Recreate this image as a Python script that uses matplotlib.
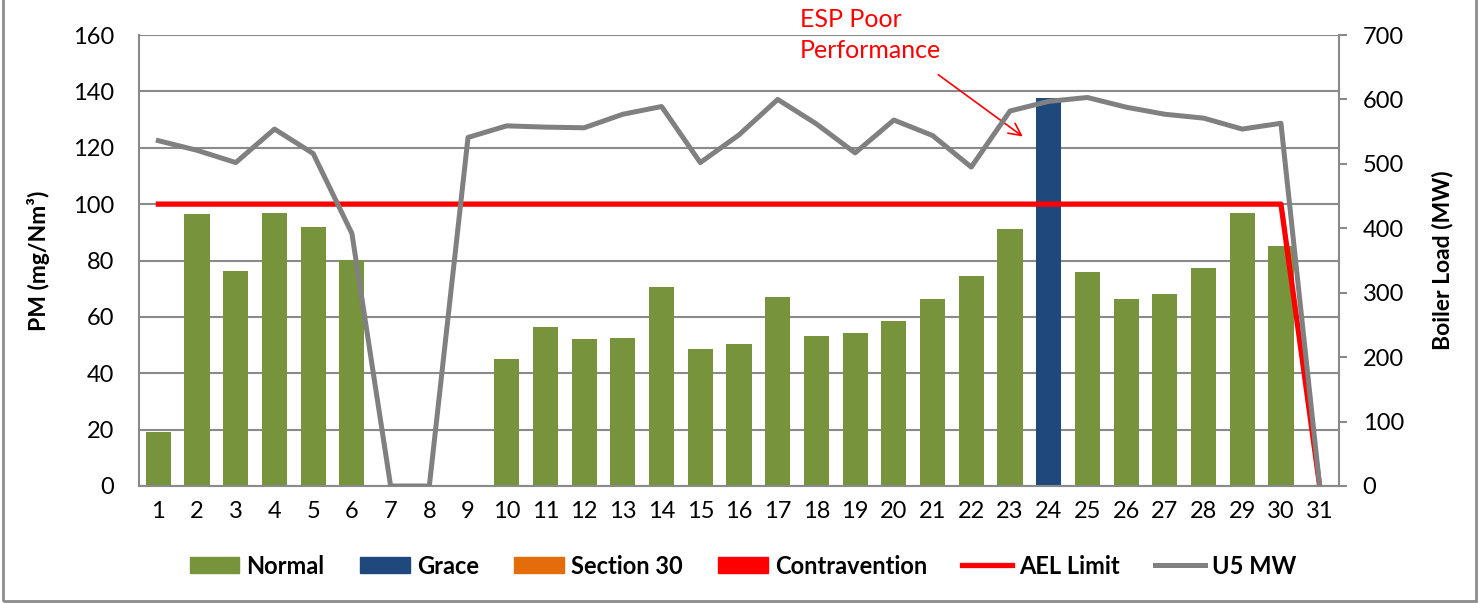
import numpy as np
import matplotlib
matplotlib.use("Agg")
import matplotlib.pyplot as plt
from matplotlib.patches import Patch, Rectangle
from matplotlib.lines import Line2D

plt.rcParams['font.family'] = ['Lato', 'DejaVu Sans']

# data
days = list(range(1, 32))
pm = [19.1, 96.5, 76.2, 97.0, 91.8, 80.1, None, None, None, 44.9,
      56.5, 52.2, 52.4, 70.7, 48.7, 50.4, 66.9, 53.2, 54.4, 58.6,
      66.3, 74.5, 91.1, 137.8, 75.8, 66.2, 68.2, 77.2, 97.0, 85.1, None]
status = ['Normal'] * 31
status[23] = 'Grace'
ael_limit = [100] * 30 + [0]
u5_mw = [536, 521, 502, 554, 516, 392, 0, 0, 541, 559,
         557, 556, 577, 589, 502, 545, 600, 562, 517, 568,
         544, 495, 582, 597, 603, 588, 577, 571, 554, 563, 0]

colors = {'Normal': '#77933C', 'Grace': '#1F497D',
          'Section 30': '#E46C0A', 'Contravention': '#FF0000'}
grey = '#808080'

fig = plt.figure(figsize=(14.81, 6.03), dpi=100)
ax = fig.add_axes([139/1481, 1-486/603, 1200/1481, 451/603])
ax2 = ax.twinx()

x = np.array(days)
vals = np.array([np.nan if v is None else v for v in pm])
ax.bar(x, vals, width=0.65, color=[colors[s] for s in status], zorder=2)
ax.plot(x, ael_limit, color='#FF0000', lw=3.8, zorder=3)
ax2.plot(x, u5_mw, color=grey, lw=3.6, zorder=3)

ax.set_xlim(0.5, 31.5)
ax.set_ylim(0, 160)
ax.set_yticks(range(0, 161, 20))
ax2.set_ylim(0, 700)
ax2.set_yticks(range(0, 701, 100))
ax.set_xticks(days)
ax.set_axisbelow(True)
ax.grid(axis='y', color='#8a8a8a', lw=1.5)
ax.grid(axis='x', visible=False)

for a in (ax, ax2):
    for s in a.spines.values():
        s.set_visible(False)
for a, side in ((ax, 'left'), (ax, 'bottom'), (ax2, 'right')):
    a.spines[side].set_visible(True)
    a.spines[side].set_color('#8a8a8a')
    a.spines[side].set_linewidth(1.5)

fs = 17
ax.tick_params(axis='y', length=0, pad=18, labelsize=fs)
ax.tick_params(axis='x', length=0, pad=11, labelsize=fs)
ax2.tick_params(axis='y', length=6, width=1.5, color='#8a8a8a', pad=11, labelsize=fs)

ax.set_ylabel('PM (mg/Nm³)', fontsize=16.5, fontweight='bold')
ax.yaxis.set_label_coords(-0.074, 0.5)
ax2.set_ylabel('Boiler Load (MW)', fontsize=16.5, fontweight='bold')
ax2.yaxis.set_label_coords(1.0775, 0.5)

# annotation
ax.text(17.58, 160, 'ESP Poor\nPerformance', color='#FF0000', fontsize=18,
        ha='left', va='center', linespacing=1.4, clip_on=False)
ax.annotate('', xy=(23.39, 123.4), xytext=(21.09, 146.5),
            arrowprops=dict(arrowstyle='->', color='#FF0000', lw=1.2,
                            mutation_scale=22),
            annotation_clip=False)

handles = [Patch(color=colors[k]) for k in ['Normal', 'Grace', 'Section 30', 'Contravention']]
handles += [Line2D([], [], color='#FF0000', lw=3.8), Line2D([], [], color=grey, lw=3.6)]
labels = ['Normal', 'Grace', 'Section 30', 'Contravention', 'AEL Limit', 'U5 MW']
fig.legend(handles, labels, loc='center', bbox_to_anchor=(743/1481, 1-566/603),
           ncol=6, frameon=False, prop={'size': fs, 'weight': 'bold'},
           handlelength=2.1, handleheight=0.65, handletextpad=0.3, columnspacing=1.5)

fig.patches.append(Rectangle((3/1481, 1-601/603), 1473/1481, 1.2, transform=fig.transFigure,
                             fill=False, edgecolor='#8c8c8c', lw=2, clip_on=False))

fig.savefig('out.png', dpi=100)
